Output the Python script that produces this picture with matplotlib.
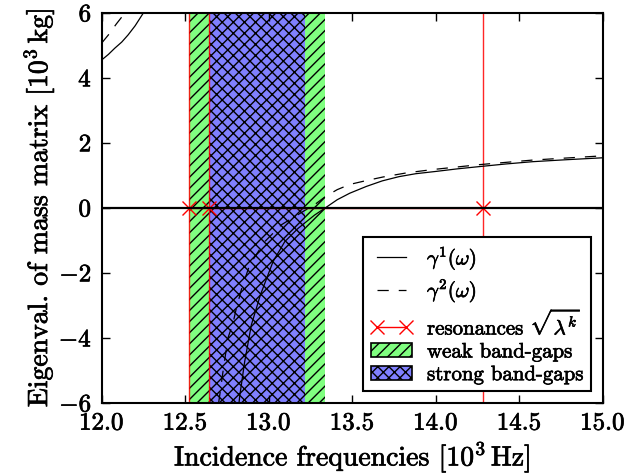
import matplotlib
matplotlib.use("Agg")
import matplotlib.pyplot as plt
import matplotlib.patheffects as pe
from matplotlib.lines import Line2D
from matplotlib.patches import Patch

plt.rcParams['font.family'] = ['cmr10', 'DejaVu Sans']
plt.rcParams['mathtext.fontset'] = 'cm'
plt.rcParams['axes.formatter.use_mathtext'] = True
plt.rcParams['hatch.linewidth'] = 1.0

# ---- data ----
g1_left_x = [12.0, 12.04, 12.078, 12.12, 12.158, 12.2, 12.25]
g1_left_y = [4.55, 4.72, 4.91, 5.1, 5.32, 5.6, 6.0]
g1_right_x = [12.822, 12.826, 12.856, 12.896, 12.95, 13.026, 13.096, 13.176,
              13.275, 13.339, 13.41, 13.485, 13.585, 13.68, 13.78, 13.88,
              14.0, 14.13, 14.263, 14.42, 14.58, 14.78, 15.0]
g1_right_y = [-6.0, -5.8, -4.73, -3.6, -2.68, -1.65, -1.04, -0.63,
              -0.22, 0.0, 0.25, 0.45, 0.66, 0.83, 0.96, 1.05,
              1.12, 1.2, 1.27, 1.35, 1.42, 1.48, 1.54]

g2_left_x = [12.0, 12.04, 12.088, 12.14]
g2_left_y = [5.07, 5.32, 5.66, 6.0]
g2_right_x = [12.70, 12.707, 12.726, 12.756, 12.786, 12.806, 12.836, 12.886,
              12.976, 13.076, 13.216, 13.265, 13.34, 13.41, 13.485, 13.585,
              13.685, 13.83, 13.985, 14.263, 14.58, 15.0]
g2_right_y = [-6.0, -5.75, -5.04, -4.0, -3.55, -3.09, -2.52, -1.75,
              -1.04, -0.52, -0.08, 0.06, 0.35, 0.56, 0.72, 0.84,
              0.95, 1.08, 1.18, 1.33, 1.47, 1.6]

resonances = [12.52, 12.642, 14.28]
weak_gap = (12.52, 13.339)
strong_gap = (12.642, 13.216)

xticks = [12.0, 12.5, 13.0, 13.5, 14.0, 14.5, 15.0]
yticks = [-6, -4, -2, 0, 2, 4, 6]

bold = [pe.withStroke(linewidth=0.5, foreground='black')]

# ---- figure ----
fig = plt.figure(figsize=(6.24, 4.74), dpi=100)
ax = fig.add_axes([0.163, 0.150, 0.803, 0.823])

ax.axvspan(weak_gap[0], weak_gap[1], facecolor='#80ff80', edgecolor='black',
           lw=0, hatch='///', zorder=1)
ax.axvspan(strong_gap[0], strong_gap[1], facecolor='#8080ff', edgecolor='black',
           lw=0, hatch='xxx', zorder=1.1)

for r in resonances:
    ax.axvline(r, color='red', lw=1.0, alpha=0.85, zorder=2)

ax.plot(g1_left_x, g1_left_y, color='black', lw=0.9, zorder=3)
ax.plot(g1_right_x, g1_right_y, color='black', lw=0.9, zorder=3)
ax.plot(g2_left_x, g2_left_y, color='black', lw=0.9, dashes=(9, 8), zorder=3)
ax.plot(g2_right_x, g2_right_y, color='black', lw=0.9, dashes=(9, 8), zorder=3)

ax.plot(resonances, [0] * len(resonances), color='red', marker='x',
        markersize=9.5, mew=1.0, lw=1.0, zorder=3.5)
ax.axhline(0, color='black', lw=1.6, zorder=4)

ax.set_xlim(12.0, 15.0)
ax.set_ylim(-6, 6)
ax.set_xticks(xticks)
ax.set_yticks(yticks)
ax.tick_params(direction='in', length=6, width=1, top=True, right=True,
               labelsize=18, pad=7)
for s in ax.spines.values():
    s.set_linewidth(1.5)
for t in ax.get_xticklabels() + ax.get_yticklabels():
    t.set_path_effects(bold)

xl = ax.set_xlabel(r'Incidence frequencies $[10^3\,\mathrm{Hz}]$', fontsize=20, labelpad=3)
yl = ax.set_ylabel(r'Eigenval. of mass matrix $[10^3\,\mathrm{kg}]$', fontsize=20, labelpad=2)
xl.set_path_effects(bold)
yl.set_path_effects(bold)

handles = [
    Line2D([], [], color='black', lw=0.9),
    Line2D([], [], color='black', lw=0.9, dashes=(9, 8)),
    Line2D([], [], color='red', lw=1.0, marker='x', markersize=9.5, mew=1.0),
    Patch(facecolor='#80ff80', edgecolor='black', hatch='///', lw=1.2),
    Patch(facecolor='#8080ff', edgecolor='black', hatch='xxx', lw=1.2),
]
labels = [r'$\gamma^1(\omega)$', r'$\gamma^2(\omega)$',
          r'resonances $\sqrt{\lambda^k}$', 'weak band-gaps', 'strong band-gaps']
leg = ax.legend(handles, labels, loc='lower right', fontsize=15, numpoints=2,
                fancybox=False, framealpha=1, edgecolor='black',
                handlelength=2.0, handletextpad=0.7, labelspacing=0.2,
                borderpad=0.35, borderaxespad=0.55)
leg.get_frame().set_linewidth(1.5)
leg.set_zorder(10)
for t in leg.get_texts():
    t.set_path_effects(bold)

fig.savefig('out.png', dpi=100)
